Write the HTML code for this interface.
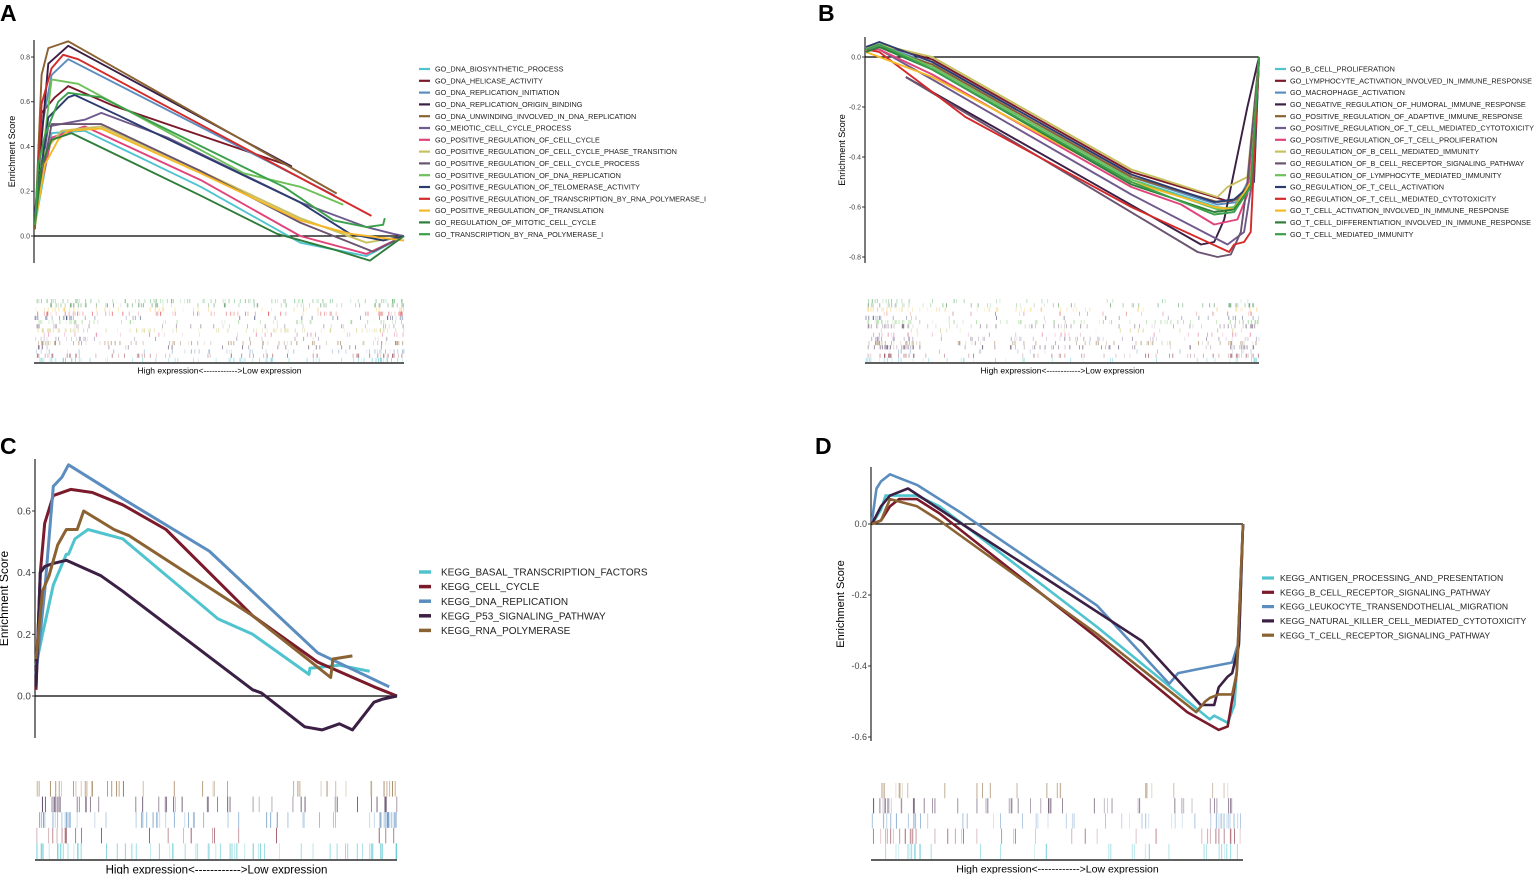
<!DOCTYPE html>
<html><head><meta charset="utf-8"><style>
html,body{margin:0;padding:0;background:#fff;}
svg{display:block;font-family:"Liberation Sans",Arial,sans-serif;}
</style></head><body>
<svg id="fig" width="1536" height="874" viewBox="0 0 1536 874" xmlns="http://www.w3.org/2000/svg"></svg>
<script>
// ---------- DATA ----------
// Panel A (GO, positively enriched). ranks in gene-list units (N = 1113)
const aNames = ["GO_DNA_BIOSYNTHETIC_PROCESS","GO_DNA_HELICASE_ACTIVITY","GO_DNA_REPLICATION_INITIATION","GO_DNA_REPLICATION_ORIGIN_BINDING","GO_DNA_UNWINDING_INVOLVED_IN_DNA_REPLICATION","GO_MEIOTIC_CELL_CYCLE_PROCESS","GO_POSITIVE_REGULATION_OF_CELL_CYCLE","GO_POSITIVE_REGULATION_OF_CELL_CYCLE_PHASE_TRANSITION","GO_POSITIVE_REGULATION_OF_CELL_CYCLE_PROCESS","GO_POSITIVE_REGULATION_OF_DNA_REPLICATION","GO_POSITIVE_REGULATION_OF_TELOMERASE_ACTIVITY","GO_POSITIVE_REGULATION_OF_TRANSCRIPTION_BY_RNA_POLYMERASE_I","GO_POSITIVE_REGULATION_OF_TRANSLATION","GO_REGULATION_OF_MITOTIC_CELL_CYCLE","GO_TRANSCRIPTION_BY_RNA_POLYMERASE_I"];
const aRanks = [
 [0,50,150,500,800,1000,1113],
 [0,20,60,100,240,775],
 [10,50,100,905],
 [0,40,100,775],
 [0,20,40,80,100,910],
 [0,40,150,200,400,800,1000,1080,1113],
 [0,50,150,500,800,1000,1113],
 [0,30,80,200,500,800,1000,1113],
 [0,50,200,500,800,1020,1113],
 [10,50,130,630,800,930],
 [0,40,100,120,250,800,950,1050,1113],
 [10,20,50,85,130,1015],
 [0,30,70,100,200,500,800,950,1113],
 [0,20,50,110,500,730,900,1010,1113],
 [0,10,30,70,100,200,750,900,1000,1050,1055]];
const aES = [
 [.05,.46,.47,.22,-.03,-.09,0],
 [.05,.55,.62,.67,.58,.31],
 [.40,.72,.79,.18],
 [.10,.77,.85,.31],
 [.03,.72,.84,.86,.87,.19],
 [.10,.49,.52,.55,.44,.15,.04,.01,0],
 [.10,.44,.49,.25,0,-.08,0],
 [.05,.38,.47,.49,.29,.08,-.03,0],
 [.10,.50,.50,.29,.06,-.07,0],
 [.20,.70,.68,.28,.22,.14],
 [.10,.53,.62,.63,.54,.15,.01,-.02,0],
 [.29,.59,.75,.81,.79,.09],
 [.05,.32,.43,.47,.48,.28,.07,.01,-.02],
 [.05,.32,.43,.46,.18,.01,-.06,-.11,0],
 [.05,.32,.45,.60,.64,.62,.22,.07,.04,.05,.08]];
const aTicks = [0.0,0.2,0.4,0.6,0.8];
const aTickLabels = ["0.0","0.2","0.4","0.6","0.8"];

// Panel B (GO, negatively enriched). N = 1185
const bNames = ["GO_B_CELL_PROLIFERATION","GO_LYMPHOCYTE_ACTIVATION_INVOLVED_IN_IMMUNE_RESPONSE","GO_MACROPHAGE_ACTIVATION","GO_NEGATIVE_REGULATION_OF_HUMORAL_IMMUNE_RESPONSE","GO_POSITIVE_REGULATION_OF_ADAPTIVE_IMMUNE_RESPONSE","GO_POSITIVE_REGULATION_OF_T_CELL_MEDIATED_CYTOTOXICITY","GO_POSITIVE_REGULATION_OF_T_CELL_PROLIFERATION","GO_REGULATION_OF_B_CELL_MEDIATED_IMMUNITY","GO_REGULATION_OF_B_CELL_RECEPTOR_SIGNALING_PATHWAY","GO_REGULATION_OF_LYMPHOCYTE_MEDIATED_IMMUNITY","GO_REGULATION_OF_T_CELL_ACTIVATION","GO_REGULATION_OF_T_CELL_MEDIATED_CYTOTOXICITY","GO_T_CELL_ACTIVATION_INVOLVED_IN_IMMUNE_RESPONSE","GO_T_CELL_DIFFERENTIATION_INVOLVED_IN_IMMUNE_RESPONSE","GO_T_CELL_MEDIATED_IMMUNITY"];
const bRanks = [
 [0,40,200,800,1060,1110,1160,1185],
 [0,40,200,800,1050,1100,1160,1185],
 [0,40,200,800,1060,1120,1170,1185],
 [120,1010,1050,1080,1150,1185],
 [0,40,200,800,1060,1120,1170,1185],
 [0,40,200,800,1090,1100,1140,1170,1185],
 [0,40,200,800,950,1050,1120,1150,1185],
 [0,40,200,800,1060,1090,1150,1185],
 [120,1000,1060,1100,1130,1150,1185],
 [0,40,200,800,1060,1110,1160,1185],
 [0,40,200,800,1050,1110,1170,1185],
 [0,40,300,800,1095,1110,1140,1160,1185],
 [0,40,200,800,1050,1110,1160,1185],
 [0,40,200,800,1050,1110,1160,1185],
 [0,40,200,800,1050,1110,1160,1185]];
const bES = [
 [.03,.04,-.04,-.49,-.60,-.61,-.50,0],
 [.03,.05,-.01,-.46,-.56,-.58,-.52,0],
 [.03,.05,-.03,-.48,-.59,-.58,-.45,0],
 [-.08,-.75,-.74,-.65,-.20,0],
 [.02,.04,-.03,-.48,-.58,-.57,-.48,0],
 [.03,.03,-.09,-.55,-.75,-.74,-.70,-.45,0],
 [.03,.03,-.07,-.52,-.59,-.67,-.65,-.55,0],
 [.04,.05,0,-.45,-.56,-.52,-.48,0],
 [-.08,-.78,-.80,-.79,-.70,-.50,0],
 [.03,.05,-.04,-.49,-.61,-.60,-.50,0],
 [.04,.06,-.02,-.47,-.58,-.57,-.50,0],
 [.03,.02,-.24,-.60,-.78,-.75,-.74,-.70,0],
 [.02,0,-.08,-.50,-.60,-.61,-.50,0],
 [.02,.04,-.05,-.51,-.62,-.61,-.52,0],
 [.03,.05,-.05,-.50,-.63,-.62,-.52,0]];
const bTicks = [0.0,-0.2,-0.4,-0.6,-0.8];
const bTickLabels = ["0.0","-0.2","-0.4","-0.6","-0.8"];

// Panel C (KEGG, positive). N = 833
const cNames = ["KEGG_BASAL_TRANSCRIPTION_FACTORS","KEGG_CELL_CYCLE","KEGG_DNA_REPLICATION","KEGG_P53_SIGNALING_PATHWAY","KEGG_RNA_POLYMERASE"];
const cRanks = [
 [0,15,40,70,75,90,120,200,420,500,630,632,700,770],
 [0,10,20,40,80,130,200,300,500,650,780,833],
 [0,20,40,60,75,200,400,650,815],
 [0,10,20,40,70,150,200,500,520,620,660,700,730,780,800,833],
 [0,15,30,50,70,95,110,180,215,500,680,685,730]];
const cES = [
 [.10,.20,.36,.46,.46,.51,.54,.51,.25,.20,.07,.09,.10,.08],
 [.02,.40,.56,.65,.67,.66,.62,.54,.26,.11,.03,0],
 [.07,.34,.68,.71,.75,.64,.47,.14,.03],
 [.03,.40,.42,.43,.44,.39,.34,.02,.01,-.10,-.11,-.09,-.11,-.02,-.01,0],
 [.12,.34,.39,.49,.54,.54,.60,.54,.52,.26,.06,.12,.13]];
const cTicks = [0.0,0.2,0.4,0.6];
const cTickLabels = ["0.0","0.2","0.4","0.6"];

// Panel D (KEGG, negative). N = 824
const dNames = ["KEGG_ANTIGEN_PROCESSING_AND_PRESENTATION","KEGG_B_CELL_RECEPTOR_SIGNALING_PATHWAY","KEGG_LEUKOCYTE_TRANSENDOTHELIAL_MIGRATION","KEGG_NATURAL_KILLER_CELL_MEDIATED_CYTOTOXICITY","KEGG_T_CELL_RECEPTOR_SIGNALING_PATHWAY"];
const dRanks = [
 [0,20,30,60,100,150,500,750,760,790,805,815,824],
 [0,20,40,60,100,150,500,700,770,790,810,824],
 [0,10,20,40,60,100,200,500,660,680,720,760,800,815,824],
 [0,20,40,80,200,600,730,760,770,790,800,815,824],
 [0,20,40,100,150,500,650,720,740,750,770,800,810,824]];
const dES = [
 [0,.04,.08,.08,.08,.05,-.29,-.55,-.54,-.56,-.51,-.33,0],
 [0,.01,.05,.07,.07,.03,-.32,-.53,-.58,-.57,-.42,0],
 [.01,.10,.12,.14,.13,.11,.03,-.23,-.45,-.42,-.41,-.40,-.39,-.33,0],
 [0,.05,.08,.10,0,-.33,-.51,-.51,-.46,-.43,-.42,-.34,0],
 [0,.01,.07,.05,.01,-.31,-.46,-.53,-.50,-.49,-.48,-.48,-.42,0]];
const dTicks = [0.0,-0.2,-0.4,-0.6];
const dTickLabels = ["0.0","-0.2","-0.4","-0.6"];

// ---------- STYLE ----------
const pal15 = ["#4fc4cf","#7b1a2a","#5b8dbf","#3b1f44","#8b6232","#6f5a8e","#e0447a","#c9c060","#6b5470","#6cc15a","#2d3c70","#d42a2a","#f5b826","#2e7d3a","#3aa04a"];
const pal5 = ["#4fc4cf","#7b1a2a","#5b8dbf","#3b1f44","#8b6232"];
const NS = "http://www.w3.org/2000/svg";
const svg = document.getElementById("fig");
function mk(tag, attrs, parent){
  const e = document.createElementNS(NS, tag);
  for (const k in attrs) e.setAttribute(k, attrs[k]);
  (parent||svg).appendChild(e);
  return e;
}
// deterministic hash for rug hit placement (visual texture only)
function hsh(i,j,k){let h=(i*73856093)^(j*19349663)^(k*83492791);h=(h^(h>>>13))*1274126177;h=h^(h>>>16);return ((h>>>0)%10000)/10000;}

function panel(p){
  const g = mk("g",{});
  
  
  const xs = r => p.x0 + (p.x1-p.x0)*r/p.N;
  const ys = v => p.yz + (p.y08-p.yz)*v/p.ref;
  const L = mk("text",{x:p.lx,y:p.ly,"font-size":23,"font-weight":"bold",fill:"#000"},g);
  L.textContent = p.id;
  
  
  const ax = mk("line",{x1:p.x0-1,x2:p.x0-1,y1:p.ya0,y2:p.ya1,stroke:"#333","stroke-width":1.3},g);
  
  
  p.ticks.forEach((t,i)=>{
    const y = ys(t);
    mk("line",{x1:p.x0-4,x2:p.x0-1,y1:y,y2:y,stroke:"#333","stroke-width":1},g);
    const tx = mk("text",{x:p.x0-5,y:y+p.tfs*0.35,"font-size":p.tfs,"text-anchor":"end",fill:"#444"},g);
    tx.textContent = p.tickLabels[i];
    
    
  });
  const yt = mk("text",{x:0,y:0,"font-size":p.afs,"text-anchor":"middle",fill:"#000",transform:`translate(${p.x0-p.atOff},${(p.ya0+p.ya1)/2}) rotate(-90)`},g);
  yt.textContent = "Enrichment Score";
  
  
  const z = mk("line",{x1:p.x0-1,x2:p.x1,y1:ys(0),y2:ys(0),stroke:"#000","stroke-width":1.2},g);
  
  
  p.ranks.forEach((rk,i)=>{
    const d = rk.map((r,j)=>(j?"L":"M")+xs(r).toFixed(1)+","+ys(p.es[i][j]).toFixed(1)).join("");
    const pa = mk("path",{d:d,fill:"none",stroke:p.pal[i],"stroke-width":p.lw,"stroke-linejoin":"round"},g);
    
    
  });
  const n = p.ranks.length;
  const rh = (p.rb-p.rt)/n;
  for(let i=0;i<n;i++){
    const si = n-1-i;
    const rg = mk("g",{},g);
    
    
    const cnt = Math.round(p.hits*(0.4+1.2*hsh(si,p.seed,11)));
    for(let k=0;k<cnt;k++){
      let u = hsh(si+p.seed,k,7);
      if (hsh(si,k,3) < p.edge) u = (hsh(si,k,5) < 0.6) ? u*0.12 : 1-u*0.08;
      const x = p.x0 + (p.x1-p.x0)*u;
      mk("line",{x1:x,x2:x,y1:p.rt+i*rh,y2:p.rt+(i+1)*rh,stroke:p.pal[si],"stroke-width":0.9,opacity:p.op0+p.op1*hsh(si,k,9)},rg);
    }
  }
  const bl = mk("line",{x1:p.x0-1,x2:p.x1,y1:p.rb+1,y2:p.rb+1,stroke:"#000","stroke-width":1.3},g);
  
  
  const xl = mk("text",{x:(p.x0+p.x1)/2,y:p.rb+p.xfs+3,"font-size":p.xfs,"text-anchor":"middle",fill:"#000"},g);
  xl.textContent = "High expression<------------>Low expression";
  
  
  p.names.forEach((nm,i)=>{
    const y = p.lg0 + i*p.lgs;
    const sw = mk("line",{x1:p.lx0,x2:p.lx0+p.sww,y1:y,y2:y,stroke:p.pal[i],"stroke-width":p.lgw},g);
    
    
    const t = mk("text",{x:p.ltx,y:y+p.lfs*0.36,"font-size":p.lfs,fill:"#222"},g);
    t.textContent = nm;
    
    
  });
}

panel({id:"A",lx:0,ly:21,x0:35,x1:404,N:1113,yz:236,y08:57,ref:0.8,ya0:40,ya1:263,ticks:aTicks,tickLabels:aTickLabels,tfs:7,afs:9,atOff:20,ranks:aRanks,es:aES,names:aNames,pal:pal15,lw:1.9,rt:299,rb:362,hits:55,edge:0.3,seed:1,op0:0.15,op1:0.45,xfs:8.5,lg0:69,lgs:11.8,lx0:419,sww:11,lgw:2.2,ltx:435,lfs:7.3});
panel({id:"B",lx:818,ly:21,x0:866,x1:1259,N:1185,yz:57,y08:257,ref:-0.8,ya0:37,ya1:263,ticks:bTicks,tickLabels:bTickLabels,tfs:7,afs:9,atOff:21,ranks:bRanks,es:bES,names:bNames,pal:pal15,lw:1.9,rt:299,rb:362,hits:45,edge:0.35,seed:40,op0:0.15,op1:0.45,xfs:8.5,lg0:69,lgs:11.8,lx0:1275,sww:11,lgw:2.2,ltx:1290,lfs:7.3});
panel({id:"C",lx:0,ly:454,x0:36,x1:397,N:833,yz:696,y08:511,ref:0.6,ya0:459,ya1:738,ticks:cTicks,tickLabels:cTickLabels,tfs:10,afs:12,atOff:28,ranks:cRanks,es:cES,names:cNames,pal:pal5,lw:3,rt:781,rb:859,hits:45,edge:0.3,seed:80,op0:0.3,op1:0.5,xfs:11.5,lg0:572,lgs:14.6,lx0:419,sww:12,lgw:3.5,ltx:441,lfs:10});
panel({id:"D",lx:815,ly:454,x0:872,x1:1243,N:824,yz:524,y08:737,ref:-0.6,ya0:467,ya1:741,ticks:dTicks,tickLabels:dTickLabels,tfs:9,afs:11,atOff:28,ranks:dRanks,es:dES,names:dNames,pal:pal5,lw:2.6,rt:783,rb:859,hits:55,edge:0.35,seed:120,op0:0.2,op1:0.45,xfs:10.5,lg0:578,lgs:14.3,lx0:1262,sww:12,lgw:3.2,ltx:1280,lfs:8.6});
</script>
</body></html>
